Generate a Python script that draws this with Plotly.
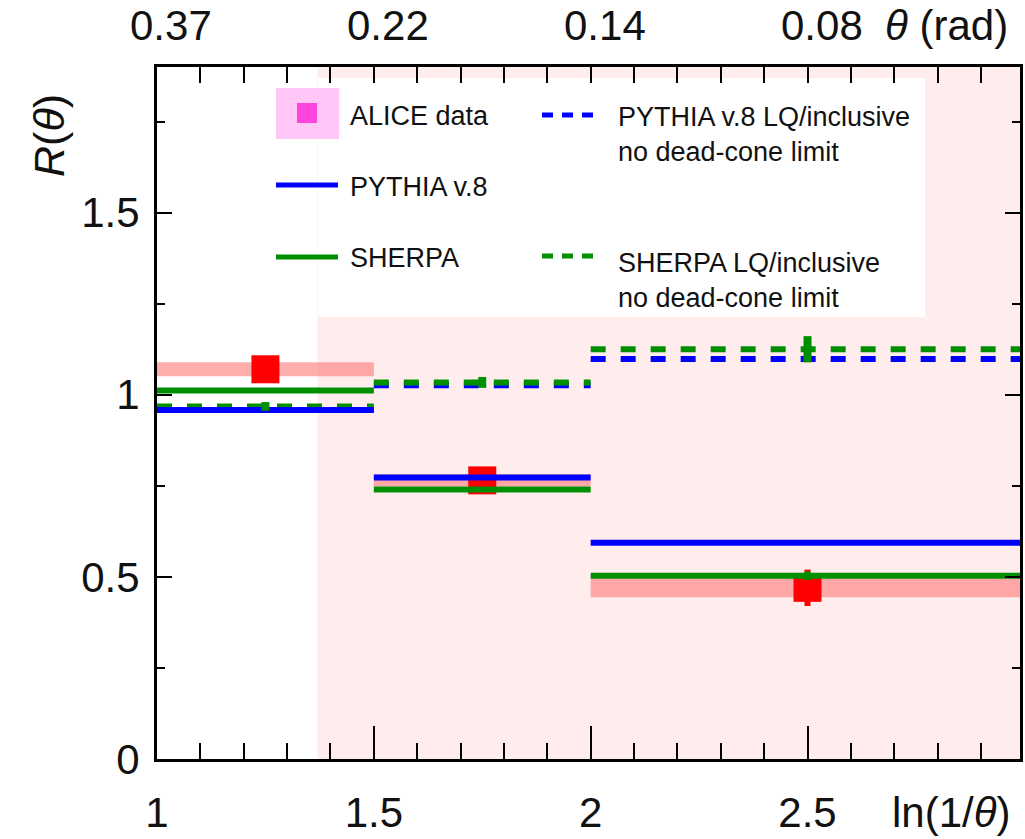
import plotly.graph_objects as go

# ---- data -------------------------------------------------------------
bin_edges = [1.0, 1.5, 2.0, 3.0]                      # ln(1/theta) bin edges
bin_centres = [1.25, 1.75, 2.5]
theta_labels = ["0.37", "0.22", "0.14", "0.08"]      # top axis (theta in rad)
theta_label_at = [1.0, 1.5, 2.0, 2.5]

alice_r = [1.07, 0.765, 0.47]
alice_stat = [0.02, 0.02, 0.05]
alice_syst = [0.019, 0.017, 0.026]

pythia_r = [0.958, 0.773, 0.594]
sherpa_r = [1.012, 0.740, 0.503]
sherpa_err = [0.005, 0.005, 0.012]
pythia_lq_r = [0.958, 1.026, 1.098]
sherpa_lq_r = [0.968, 1.034, 1.125]
sherpa_lq_err = [0.012, 0.015, 0.036]

dead_cone_start = 1.37          # start of the shaded region in ln(1/theta)

# ---- styling ------------------------------------------------------------
W, H = 1025, 839
ML, MR, MT, MB = 157, 5, 67, 80
X_RANGE = [1.0, 2.99]
Y_RANGE = [0.0, 1.9]
FONT = "Liberation Sans, Arial, sans-serif"
BLUE = "#0000FF"
GREEN = "#008F00"
RED = "#FF0000"
BAND = "rgba(255,120,120,0.6)"
SHADE = "#FFECEC"

PW = W - ML - MR
PH = H - MT - MB


def fx(px):
    """page pixel -> paper x"""
    return (px - ML) / PW


def fy(py):
    """page pixel -> paper y"""
    return (MT + PH - py) / PH


def steps(values):
    xs, ys = [], []
    for i, v in enumerate(values):
        xs += [bin_edges[i], bin_edges[i + 1], None]
        ys += [v, v, None]
    return xs, ys


fig = go.Figure()

# systematic bands of the data
bx, by = [], []
for i, (v, s) in enumerate(zip(alice_r, alice_syst)):
    lo, hi = bin_edges[i], bin_edges[i + 1]
    bx += [lo, hi, hi, lo, lo, None]
    by += [v - s, v - s, v + s, v + s, v - s, None]
fig.add_trace(go.Scatter(x=bx, y=by, mode="lines", fill="toself",
                         fillcolor=BAND, line=dict(width=0),
                         hoverinfo="skip", showlegend=False))

# data points
fig.add_trace(go.Scatter(
    x=bin_centres, y=alice_r, mode="markers",
    marker=dict(symbol="square", size=28, color=RED, line=dict(width=0)),
    error_y=dict(type="data", array=alice_stat, color=RED, thickness=6, width=0),
    showlegend=False))

# model curves
for vals, color, dash in [(pythia_lq_r, BLUE, "15px,15px"),
                          (sherpa_lq_r, GREEN, "15px,15px"),
                          (pythia_r, BLUE, "solid"),
                          (sherpa_r, GREEN, "solid")]:
    xs, ys = steps(vals)
    fig.add_trace(go.Scatter(x=xs, y=ys, mode="lines",
                             line=dict(color=color, width=6, dash=dash),
                             hoverinfo="skip", showlegend=False))

for vals, errs, thick in [(sherpa_lq_r, sherpa_lq_err, 8), (sherpa_r, sherpa_err, 6)]:
    fig.add_trace(go.Scatter(
        x=bin_centres, y=vals, mode="markers", marker=dict(size=0, opacity=0),
        error_y=dict(type="data", array=errs, color=GREEN, thickness=thick, width=0),
        hoverinfo="skip", showlegend=False))

# top axis carrier
fig.add_trace(go.Scatter(x=[None], y=[None], xaxis="x2", showlegend=False))

shapes = [
    dict(type="rect", xref="x", yref="paper", x0=dead_cone_start, x1=3.0,
         y0=0, y1=1, fillcolor=SHADE, line=dict(width=0), layer="below"),
    dict(type="rect", xref="paper", yref="paper", x0=fx(318), x1=fx(925),
         y0=fy(317), y1=fy(78), fillcolor="white", line=dict(width=0),
         layer="below"),
    # legend glyphs
    dict(type="rect", xref="paper", yref="paper", x0=fx(276), x1=fx(339),
         y0=fy(139), y1=fy(88), fillcolor="#FFC6F6", line=dict(width=0)),
    dict(type="rect", xref="paper", yref="paper", x0=fx(297), x1=fx(317),
         y0=fy(123), y1=fy(103), fillcolor="#FF44DD", line=dict(width=0)),
    dict(type="line", xref="paper", yref="paper", x0=fx(276), x1=fx(338),
         y0=fy(185), y1=fy(185), line=dict(color=BLUE, width=5)),
    dict(type="line", xref="paper", yref="paper", x0=fx(276), x1=fx(338),
         y0=fy(257), y1=fy(257), line=dict(color=GREEN, width=5)),
    dict(type="line", xref="paper", yref="paper", x0=fx(542), x1=fx(593),
         y0=fy(115), y1=fy(115), line=dict(color=BLUE, width=5, dash="11px,9px")),
    dict(type="line", xref="paper", yref="paper", x0=fx(542), x1=fx(593),
         y0=fy(256), y1=fy(256), line=dict(color=GREEN, width=5, dash="11px,9px")),
]

LEG = dict(size=27, color="#111111", family=FONT)
annotations = [
    dict(text="ALICE data", x=fx(348), y=fy(116)),
    dict(text="PYTHIA v.8", x=fx(348), y=fy(187)),
    dict(text="SHERPA", x=fx(348), y=fy(258)),
    dict(text="PYTHIA v.8 LQ/inclusive<br>no dead-cone limit", x=fx(616), y=fy(134)),
    dict(text="SHERPA LQ/inclusive<br>no dead-cone limit", x=fx(616), y=fy(280)),
]
for a in annotations:
    a.update(xref="paper", yref="paper", xanchor="left", yanchor="middle",
             showarrow=False, align="left", font=LEG)

AX = dict(size=42, color="#111111", family=FONT)
for lab, pos in zip(theta_labels, theta_label_at):
    annotations.append(dict(text=lab, x=pos, xref="x", y=1, yref="paper",
                            yshift=42, xshift=14, xanchor="center",
                            yanchor="middle", showarrow=False, font=AX))
annotations += [
    dict(text="<i>θ</i> (rad)", x=1, xref="paper", y=1, yref="paper", yshift=42,
         xshift=-10, xanchor="right", yanchor="middle", showarrow=False, font=AX),
    dict(text="ln(1/<i>θ</i>)", x=1, xref="paper", y=0, yref="paper", yshift=-53,
         xshift=-7, xanchor="right", yanchor="middle", showarrow=False, font=AX),
    dict(text="<i>R</i>(<i>θ</i>)", x=0, xref="paper", xshift=-108, y=fy(136),
         yref="paper", xanchor="center", yanchor="middle", textangle=-90,
         showarrow=False, font=dict(size=43, color="#111111", family=FONT)),
]

fig.update_layout(
    width=W, height=H,
    margin=dict(l=ML, r=MR, t=MT, b=MB, pad=0, autoexpand=False),
    paper_bgcolor="white", plot_bgcolor="white",
    font=dict(family=FONT, color="#111111"),
    showlegend=False,
    shapes=shapes, annotations=annotations,
    xaxis=dict(range=X_RANGE, tick0=1, dtick=0.5, ticks="inside", ticklen=33,
               tickwidth=2, tickcolor="black", showline=True, linewidth=3,
               linecolor="black", mirror=True, showgrid=False, zeroline=False,
               tickfont=AX, ticklabelstandoff=15, automargin=False,
               minor=dict(tick0=1, dtick=0.1, ticks="inside", ticklen=16,
                          tickwidth=2, tickcolor="black", showgrid=False)),
    xaxis2=dict(range=X_RANGE, overlaying="x", side="top", tick0=1, dtick=0.1,
                ticks="inside", ticklen=16, tickwidth=2, tickcolor="black",
                showticklabels=False, showline=False, showgrid=False,
                zeroline=False, automargin=False),
    yaxis=dict(range=Y_RANGE, tick0=0, dtick=0.5, ticks="inside", ticklen=15,
               tickwidth=2, tickcolor="black", showline=True, linewidth=3,
               linecolor="black", mirror="ticks", showgrid=False, zeroline=False,
               tickfont=AX, ticklabelstandoff=6, automargin=False,
               minor=dict(tick0=0, dtick=0.25, ticks="inside", ticklen=8,
                          tickwidth=2, tickcolor="black", showgrid=False)),
)

fig.write_html("out.html")
